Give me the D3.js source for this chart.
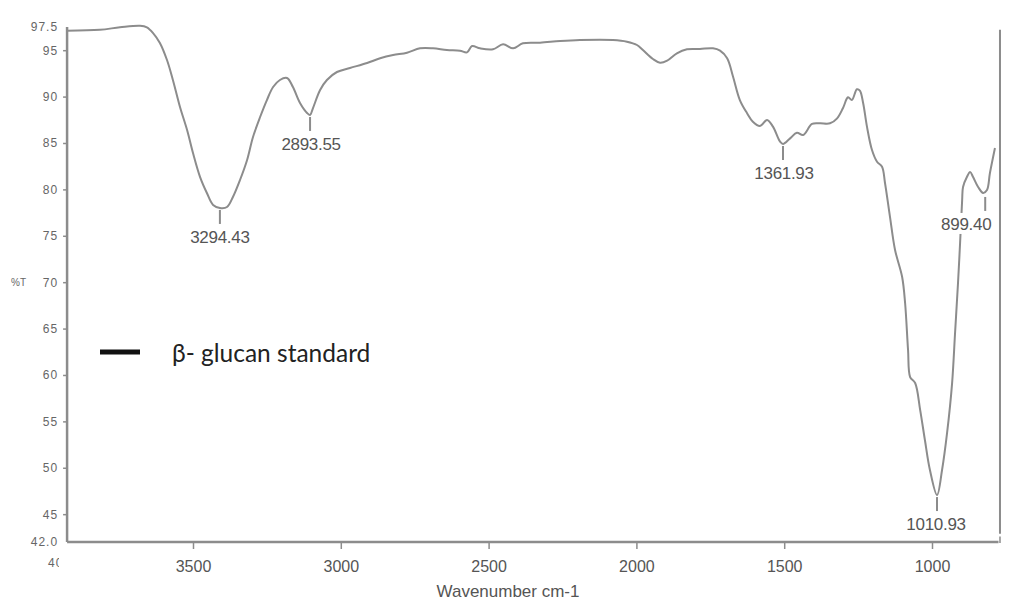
<!DOCTYPE html>
<html>
<head>
<meta charset="utf-8">
<script src="https://cdn.jsdelivr.net/npm/d3@7/dist/d3.min.js"></script>
<style>
  html, body { margin: 0; padding: 0; background: #fff; }
  svg { display: block; }
</style>
</head>
<body>
<svg id="chart" width="1009" height="602"></svg>
<script>
// ---- data ----
const wavenumber = [3926, 3815, 3747, 3679, 3656, 3635, 3612, 3588, 3568, 3544, 3520, 3500, 3476, 3453, 3432, 3409, 3385, 3365, 3341, 3317, 3297, 3273, 3250, 3229, 3206, 3182, 3162, 3138, 3114, 3104, 3094, 3070, 3047, 3013, 2969, 2911, 2867, 2823, 2776, 2732, 2688, 2641, 2597, 2573, 2556, 2529, 2485, 2451, 2417, 2384, 2326, 2258, 2191, 2079, 2032, 1998, 1978, 1944, 1920, 1896, 1863, 1829, 1785, 1741, 1717, 1693, 1673, 1650, 1626, 1606, 1582, 1558, 1538, 1514, 1504, 1480, 1457, 1436, 1406, 1379, 1345, 1321, 1301, 1284, 1271, 1254, 1244, 1233, 1220, 1203, 1186, 1169, 1159, 1142, 1125, 1101, 1091, 1081, 1074, 1057, 1040, 1024, 1007, 983, 966, 949, 932, 922, 912, 905, 898, 895, 882, 871, 861, 844, 827, 814, 804, 787];
const transmittance = [97.1, 97.2, 97.47, 97.64, 97.47, 96.85, 95.78, 93.94, 91.79, 88.88, 86.4, 83.92, 81.33, 79.61, 78.32, 78.0, 78.1, 79.18, 81.01, 83.17, 85.65, 87.8, 89.63, 91.03, 91.79, 92.0, 91.03, 89.31, 88.23, 88.02, 88.77, 90.71, 91.79, 92.65, 93.08, 93.62, 94.13, 94.48, 94.73, 95.2, 95.2, 95.02, 94.95, 94.77, 95.45, 95.2, 95.1, 95.64, 95.2, 95.74, 95.81, 95.99, 96.1, 96.1, 95.92, 95.56, 95.02, 94.05, 93.65, 93.87, 94.67, 95.1, 95.13, 95.2, 94.95, 94.13, 92.14, 89.63, 88.23, 87.29, 86.83, 87.48, 86.76, 85.14, 84.89, 85.5, 86.11, 85.86, 87.05, 87.12, 87.12, 87.66, 88.77, 89.92, 89.63, 90.79, 90.64, 89.31, 86.76, 84.24, 82.98, 82.44, 80.69, 77.02, 73.47, 70.56, 67.76, 62.69, 59.78, 59.13, 56.22, 52.99, 49.76, 47.06, 49.76, 53.75, 59.13, 64.52, 69.91, 74.22, 78.86, 80.26, 81.33, 81.87, 81.33, 80.26, 79.61, 79.93, 81.77, 84.46];

const peakWavenumber = [3409, 3104, 1504, 983, 820];
const peakTransmittance = [78.0, 88.02, 84.89, 47.06, 79.4];
const peakLabels = ["3294.43", "2893.55", "1361.93", "1010.93", "899.40"];

const xTickValues = [3500, 3000, 2500, 2000, 1500, 1000];
const yTickValues = [97.5, 95, 90, 85, 80, 75, 70, 65, 60, 55, 50, 45, 42];

const seriesName = "β- glucan standard";
const xTitle = "Wavenumber cm-1";
const yTitle = "%T";

// ---- chart ----
const svg = d3.select("#chart");
const gray = "#8c8c8c";
const textGray = "#555";

const x = d3.scaleLinear().domain([4000, 750]).range([45.2, 1005.9]);
const y = d3.scaleLinear().domain([42, 97.5]).range([542, 27]);

const left = x(3926), right = x(770);

// frame lines
svg.append("line").attr("x1", left).attr("x2", left).attr("y1", y(97.5)).attr("y2", y(42))
  .attr("stroke", gray).attr("stroke-width", 2.5);
svg.append("line").attr("x1", left).attr("x2", x(775)).attr("y1", y(42)).attr("y2", y(42))
  .attr("stroke", gray).attr("stroke-width", 2.5);
svg.append("line").attr("x1", right).attr("x2", right).attr("y1", y(97.2)).attr("y2", y(42.9))
  .attr("stroke", gray).attr("stroke-width", 2);
svg.append("line").attr("x1", right).attr("x2", right).attr("y1", y(42.6)).attr("y2", y(41.9))
  .attr("stroke", gray).attr("stroke-width", 1.5);

// x axis
const xAxis = d3.axisBottom(x).tickValues(xTickValues).tickSize(6).tickSizeOuter(0).tickPadding(12)
  .tickFormat(d3.format("d"));
const gx = svg.append("g").attr("transform", `translate(0,${y(42) + 1})`).call(xAxis);
gx.select(".domain").remove();
gx.selectAll(".tick line").attr("stroke", gray).attr("stroke-width", 1.5);
gx.selectAll(".tick text").attr("fill", textGray).attr("font-family", "Liberation Sans, Arial, sans-serif")
  .attr("font-size", 16).attr("dy", "0.71em");

// truncated leftmost label
svg.append("clipPath").attr("id", "clipL").append("rect").attr("x", 47).attr("y", 550).attr("width", 12).attr("height", 25);
svg.append("text").attr("x", 48).attr("y", 567).attr("clip-path", "url(#clipL)")
  .attr("fill", "#666").attr("font-family", "Liberation Sans, Arial, sans-serif").attr("font-size", 12)
  .attr("letter-spacing", 1).text("4000");

// y axis
const yAxis = d3.axisLeft(y).tickValues(yTickValues).tickSize(3).tickSizeOuter(0).tickPadding(5)
  .tickFormat(d => (d === 97.5 || d === 42) ? d.toFixed(1) : d3.format("d")(d));
const gy = svg.append("g").attr("transform", `translate(${left - 1},0)`).call(yAxis);
gy.select(".domain").remove();
gy.selectAll(".tick line").attr("stroke", gray).attr("stroke-width", 1.5);
gy.selectAll(".tick text").attr("fill", "#666").attr("font-family", "Liberation Sans, Arial, sans-serif")
  .attr("font-size", 12).attr("letter-spacing", 1);
gy.selectAll(".tick").filter(d => d === 97.5 || d === 42).select("line").remove();

// y title
svg.append("text").attr("x", 11).attr("y", y(70) + 4).attr("fill", "#666")
  .attr("font-family", "Liberation Sans, Arial, sans-serif").attr("font-size", 10).text(yTitle);

// x title
svg.append("text").attr("x", 508).attr("y", 597).attr("text-anchor", "middle").attr("fill", textGray)
  .attr("font-family", "Liberation Sans, Arial, sans-serif").attr("font-size", 17).text(xTitle);

// spectrum
const pts = wavenumber.map((w, i) => [w, transmittance[i]]);
const line = d3.line().x(d => x(d[0])).y(d => y(d[1])).curve(d3.curveCatmullRom.alpha(0.5));
svg.append("path").attr("d", line(pts)).attr("fill", "none").attr("stroke", gray)
  .attr("stroke-width", 2).attr("stroke-linejoin", "round");

// peak annotations
const labelShift = [0, 1, 1, -1, -19];
peakWavenumber.forEach((w, i) => {
  const px = x(w), py = y(peakTransmittance[i]);
  svg.append("line").attr("x1", px).attr("x2", px).attr("y1", py + 2).attr("y2", py + 16)
    .attr("stroke", gray).attr("stroke-width", 2);
  const g = svg.append("g");
  const t = g.append("text").attr("x", px + labelShift[i]).attr("y", py + 35)
    .attr("text-anchor", "middle").attr("fill", textGray)
    .attr("font-family", "Liberation Sans, Arial, sans-serif").attr("font-size", 17)
    .attr("letter-spacing", -0.3).text(peakLabels[i]);
  const bb = t.node().getBBox();
  g.insert("rect", "text").attr("x", bb.x - 1).attr("y", bb.y - 2).attr("width", bb.width + 2)
    .attr("height", bb.height + 2).attr("fill", "#fff");
});

// legend
svg.append("line").attr("x1", 100).attr("x2", 140).attr("y1", 352).attr("y2", 352)
  .attr("stroke", "#111").attr("stroke-width", 5);
svg.append("text").attr("x", 172).attr("y", 362).attr("fill", "#222")
  .attr("font-family", "Lato, Carlito, sans-serif").attr("font-size", 24.5).text(seriesName);
</script>
</body>
</html>
